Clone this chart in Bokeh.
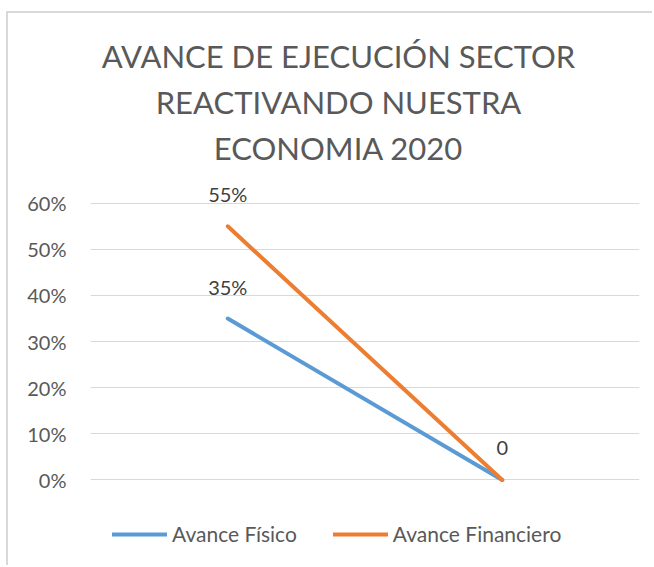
from bokeh.plotting import figure
from bokeh.models import Range1d, FixedTicker, Legend, LegendItem, Label, ColumnDataSource
from bokeh.embed import file_html
from bokeh.resources import INLINE
from bokeh.core.properties import value

# ---- data ----
title_lines = ["AVANCE DE EJECUCIÓN SECTOR", "REACTIVANDO NUESTRA", "ECONOMIA 2020"]
x_pos = [0, 1]
fisico = [0.35, 0.0]
financiero = [0.55, 0.0]
fisico_labels = ["35%", ""]
financiero_labels = ["55%", "0"]
y_ticks = [0.0, 0.1, 0.2, 0.3, 0.4, 0.5, 0.6]
y_tick_labels = ["0%", "10%", "20%", "30%", "40%", "50%", "60%"]
series_names = ["Avance Físico", "Avance Financiero"]

FONT = "Lato"
TEXT = "#595959"
BLUE = "#5b9bd5"
ORANGE = "#ed7d31"
GRID = "#d9d9d9"

p = figure(width=646, height=554, output_backend="svg", toolbar_location=None,
           x_range=Range1d(-0.5, 1.5), y_range=Range1d(-0.1899, 1.0115),
           min_border_left=82, min_border_right=15, min_border_top=0, min_border_bottom=0)
p.styles = {"border-top": "2px solid #d9d9d9", "border-left": "2px solid #d9d9d9",
            "margin-top": "11px", "margin-left": "6px"}
p.outline_line_color = None
p.xaxis.visible = False
p.xgrid.visible = False

yax = p.yaxis[0]
yax.ticker = FixedTicker(ticks=y_ticks)
yax.major_label_overrides = {t: l for t, l in zip(y_ticks, y_tick_labels)}
yax.axis_line_color = None
yax.major_tick_line_color = None
yax.minor_tick_line_color = None
yax.major_label_standoff = 18
yax.major_label_text_font = FONT
yax.major_label_text_font_size = "20px"
yax.major_label_text_color = TEXT

p.ygrid.ticker = FixedTicker(ticks=y_ticks)
p.ygrid.grid_line_color = GRID
p.ygrid.grid_line_width = 1

src_f = ColumnDataSource(dict(x=x_pos, y=fisico, lab=fisico_labels))
src_n = ColumnDataSource(dict(x=x_pos, y=financiero, lab=financiero_labels))

r1 = p.line("x", "y", source=src_f, line_color=BLUE, line_width=4, line_cap="round", line_join="round")
r2 = p.line("x", "y", source=src_n, line_color=ORANGE, line_width=4, line_cap="round", line_join="round")

for src in (src_f, src_n):
    p.text("x", "y", text="lab", source=src, text_align="center", text_baseline="alphabetic",
           y_offset=-32, text_font=value(FONT), text_font_size="20px", text_color="#404040")

# title as three centered lines
title_y = [0.9204, 0.8206, 0.7208]
for line, ty in zip(title_lines, title_y):
    p.add_layout(Label(x=0.4035, y=ty, text=line, text_align="center", text_baseline="alphabetic",
                       text_font=FONT, text_font_size="31px", text_color=TEXT))

legend = Legend(items=[LegendItem(label=series_names[0], renderers=[r1]),
                       LegendItem(label=series_names[1], renderers=[r2])],
                orientation="horizontal", location=(22, 21),
                glyph_width=55, glyph_height=20, label_standoff=5, spacing=36,
                padding=0, margin=0, border_line_color=None, background_fill_alpha=0,
                label_text_font=FONT, label_text_font_size="21px", label_text_color=TEXT)
p.add_layout(legend, "center")

open("out.html", "w").write(file_html(p, INLINE))
